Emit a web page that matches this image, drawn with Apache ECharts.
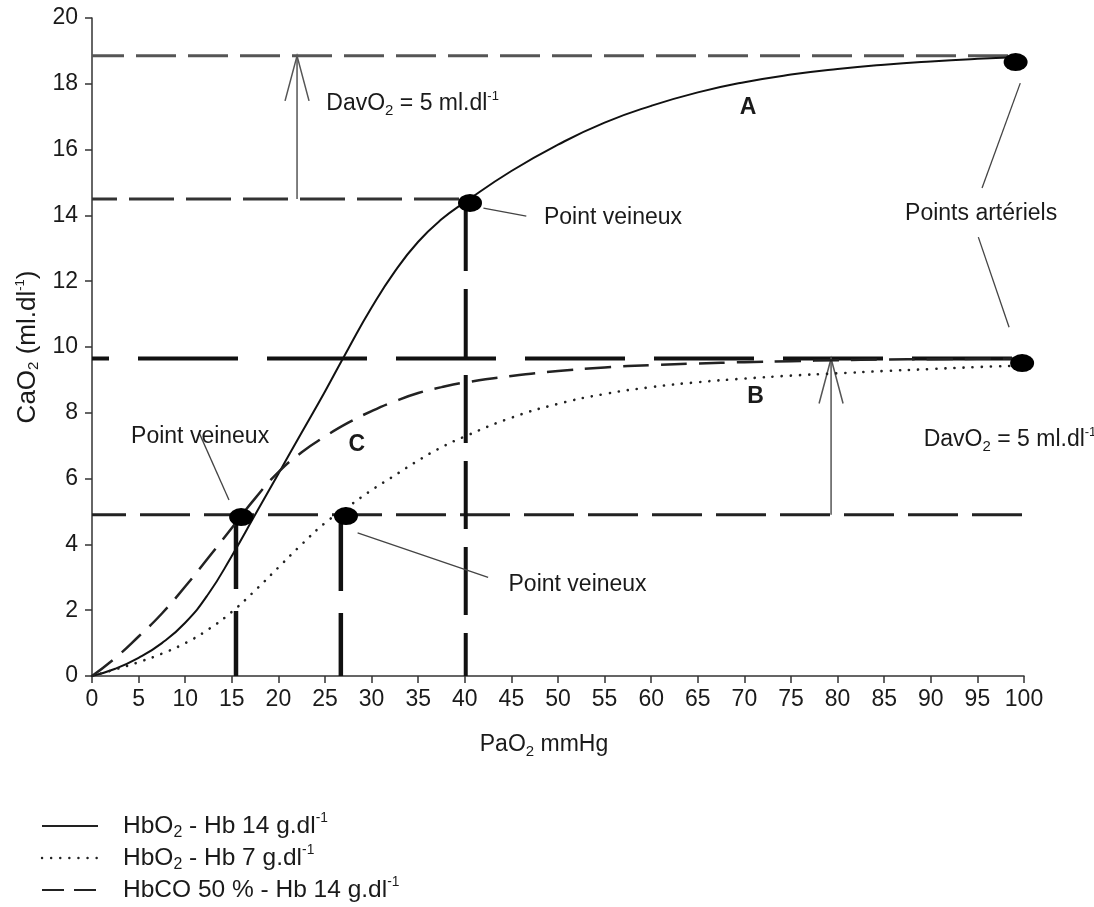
<!DOCTYPE html>
<html>
<head>
<meta charset="utf-8">
<script src="https://cdn.jsdelivr.net/npm/echarts/dist/echarts.min.js"></script>
<style>
html,body{margin:0;padding:0;background:#fff;}
#chart{width:1094px;height:907px;}
</style>
</head>
<body>
<div id="chart"></div>
<script>
// ---- data ----
var pao2 = [0, 2.5, 5, 7.5, 10, 12.5, 15, 17.5, 20, 22.5, 25, 27.5, 30, 32.5, 35, 37.5, 40, 45, 50, 55, 60, 65, 70, 75, 80, 85, 90, 95, 99];
var curveA_Hb14 = [0, 0.22, 0.55, 1.0, 1.62, 2.5, 3.65, 4.9, 6.15, 7.4, 8.65, 9.95, 11.2, 12.3, 13.2, 13.88, 14.4, 15.35, 16.15, 16.82, 17.33, 17.74, 18.05, 18.28, 18.45, 18.58, 18.68, 18.76, 18.81];
var curveB_Hb7 = [0, 0.2, 0.42, 0.68, 1.0, 1.42, 1.95, 2.6, 3.3, 4.0, 4.65, 5.15, 5.65, 6.1, 6.55, 6.95, 7.28, 7.85, 8.27, 8.57, 8.78, 8.93, 9.04, 9.13, 9.2, 9.27, 9.33, 9.39, 9.43];
var curveC_HbCO = [0, 0.55, 1.2, 1.9, 2.72, 3.6, 4.5, 5.4, 6.2, 6.8, 7.28, 7.7, 8.05, 8.35, 8.6, 8.78, 8.92, 9.12, 9.27, 9.38, 9.45, 9.5, 9.54, 9.57, 9.6, 9.62, 9.63, 9.64, 9.65];

var venousPoints = [[40.56, 14.38], [16.0, 4.83], [27.25, 4.86]];
var arterialPoints = [[99.1, 18.66], [99.8, 9.51]];

// horizontal reference levels: [level, xStart, xEnd]
var hLevels = [[18.85, 0, 98.5], [14.5, 0, 40.5], [9.65, 0, 99.8], [4.9, 0, 99.8]];
// vertical drop lines: [x, yTop]
var vDrops = [[40.1, 14.38], [15.45, 4.83], [26.7, 4.86]];
// DavO2 arrows: [x, yFrom, yTo]
var arrows = [[22.0, 14.5, 18.85], [79.3, 4.9, 9.65]];
// leader lines
var leaders = [
  [[42.0, 14.22], [46.6, 13.98]],
  [[99.6, 18.02], [95.5, 14.83]],
  [[95.1, 13.34], [98.4, 10.6]],
  [[11.5, 7.39], [14.7, 5.35]],
  [[28.5, 4.35], [42.5, 3.0]]
];
// text annotations: [text, x, y]
var notes = [
  ['DavO{sub|2} = 5 ml.dl{sup|-1}', 34.4, 17.39],
  ['DavO{sub|2} = 5 ml.dl{sup|-1}', 98.5, 7.17],
  ['{b|A}', 70.4, 17.29],
  ['{b|B}', 71.2, 8.48],
  ['{b|C}', 28.4, 7.02],
  ['Point veineux', 55.9, 13.92],
  ['Points artériels', 95.4, 14.04],
  ['Point veineux', 11.6, 7.26],
  ['Point veineux', 52.1, 2.77]
];
var legendLabels = [
  'HbO{sub|2} - Hb 14 g.dl{sup|-1}',
  'HbO{sub|2} - Hb 7 g.dl{sup|-1}',
  'HbCO 50 % - Hb 14 g.dl{sup|-1}'
];

// ---- styles ----
var FONT = '"Liberation Sans", Arial, Helvetica, sans-serif';
var TXT = '#1a1a1a';
var rich = {
  sub: {fontSize: 15, lineHeight: 15, verticalAlign: 'bottom', fontFamily: FONT, color: TXT},
  sup: {fontSize: 13, lineHeight: 13, verticalAlign: 'top', fontFamily: FONT, color: TXT}
};
function richZr(scale) {
  return {
    sub: {fontSize: 15 * scale, lineHeight: 15 * scale, verticalAlign: 'bottom', fontFamily: FONT, fill: TXT},
    sup: {fontSize: 13 * scale, lineHeight: 13 * scale, verticalAlign: 'top', fontFamily: FONT, fill: TXT},
    b: {fontSize: 23, fontWeight: 'bold', fontFamily: FONT, fill: TXT, lineHeight: 28}
  };
}
var hStyles = [
  {color: '#555', width: 3, type: [40, 12], dashOffset: 8},
  {color: '#333', width: 3, type: [45, 12], dashOffset: 20},
  {color: '#111', width: 4, type: [100, 29], dashOffset: 83},
  {color: '#222', width: 3, type: [50, 14], dashOffset: 16}
];
var vStyles = [
  {color: '#111', width: 4, type: [68, 18]},
  {color: '#111', width: 4.5, type: [72, 22]},
  {color: '#111', width: 4.5, type: [75, 22]}
];
var curveStyles = [
  {color: '#111', width: 2},
  {color: '#222', width: 2.6, type: [0.1, 9], cap: 'round'},
  {color: '#222', width: 2.5, type: [26, 12]}
];
var legendDash = [null, [0.1, 9], [22, 10]];

function pairs(xs, ys) { return xs.map(function (x, i) { return [x, ys[i]]; }); }

var series = [];
hLevels.forEach(function (h, i) {
  series.push({type: 'line', silent: true, symbol: 'none', z: 2,
    data: [[h[1], h[0]], [h[2], h[0]]], lineStyle: hStyles[i]});
});
vDrops.forEach(function (v, i) {
  series.push({type: 'line', silent: true, symbol: 'none', z: 2,
    data: [[v[0], v[1]], [v[0], 0]], lineStyle: vStyles[i]});
});
series.push({type: 'lines', coordinateSystem: 'cartesian2d', silent: true, z: 3,
  data: leaders.map(function (l) { return {coords: l}; }),
  lineStyle: {color: '#444', width: 1.3, opacity: 1}});
series.push({type: 'custom', coordinateSystem: 'cartesian2d', silent: true, z: 4,
  data: arrows, encode: {x: 0, y: [1, 2]},
  renderItem: function (params, api) {
    var x = api.value(0), y0 = api.value(1), y1 = api.value(2);
    var a = api.coord([x, y0]), b = api.coord([x, y1]);
    return {type: 'group', children: [
      {type: 'line', shape: {x1: a[0], y1: a[1], x2: b[0], y2: b[1]}, style: {stroke: '#555', lineWidth: 1.5}},
      {type: 'polyline', shape: {points: [[b[0] - 12, b[1] + 45], [b[0], b[1]], [b[0] + 12, b[1] + 45]]},
        style: {stroke: '#555', lineWidth: 1.5, fill: null}}
    ]};
  }});
[curveA_Hb14, curveB_Hb7, curveC_HbCO].forEach(function (c, i) {
  series.push({type: 'line', symbol: 'none', smooth: 0.5, z: 6, silent: true,
    data: pairs(pao2, c), lineStyle: curveStyles[i]});
});
series.push({type: 'scatter', silent: true, z: 10, clip: false, symbol: 'circle', symbolSize: [24, 18],
  data: venousPoints.concat(arterialPoints), itemStyle: {color: '#000', opacity: 1}});
// text annotations anchored in data space
series.push({type: 'custom', coordinateSystem: 'cartesian2d', silent: true, z: 11, clip: false,
  data: notes.map(function (n) { return [n[1], n[2]]; }),
  renderItem: function (params, api) {
    var p = api.coord([api.value(0), api.value(1)]);
    return {type: 'text', x: p[0], y: p[1],
      style: {text: notes[params.dataIndex][0], fontSize: 23, fontFamily: FONT, fill: TXT,
        lineHeight: 28, align: 'center', verticalAlign: 'middle', rich: richZr(1)}};
  }});

// legend drawn as graphic
var graphic = [];
legendLabels.forEach(function (lab, i) {
  var cy = 826 + 32 * i;
  var ls = {stroke: '#222', lineWidth: 2};
  if (legendDash[i]) { ls.lineDash = legendDash[i]; }
  if (i === 1) { ls.lineCap = 'round'; ls.lineWidth = 2.4; }
  graphic.push({type: 'line', shape: {x1: 42, y1: cy, x2: 98, y2: cy}, style: ls, silent: true});
  graphic.push({type: 'text', x: 123, y: cy, silent: true,
    style: {text: lab, fontSize: 24.5, fontFamily: FONT, fill: TXT, lineHeight: 30,
      verticalAlign: 'middle', align: 'left', rich: richZr(1.06)}});
});

var option = {
  animation: false,
  backgroundColor: '#fff',
  grid: {left: 92, right: 70, top: 18, bottom: 231, containLabel: false},
  xAxis: {
    type: 'value', min: 0, max: 100, interval: 5,
    name: 'PaO{sub|2} mmHg', nameLocation: 'middle', nameGap: 55,
    nameTextStyle: {fontSize: 23, fontFamily: FONT, color: TXT, lineHeight: 28, rich: rich, padding: [0, 28, 0, 0]},
    axisLine: {lineStyle: {color: '#333', width: 1.5}},
    axisTick: {show: true, length: 7, lineStyle: {color: '#333', width: 1.5}},
    axisLabel: {fontSize: 23, fontFamily: FONT, color: TXT, margin: 12},
    splitLine: {show: false}
  },
  yAxis: {
    type: 'value', min: 0, max: 20, interval: 2,
    name: 'CaO{sub|2} (ml.dl{sup|-1})', nameLocation: 'middle', nameGap: 50, nameRotate: 90,
    nameTextStyle: {fontSize: 26, fontFamily: FONT, color: TXT, lineHeight: 28, rich: rich},
    axisLine: {show: true, lineStyle: {color: '#333', width: 1.5}},
    axisTick: {show: true, length: 7, lineStyle: {color: '#333', width: 1.5}},
    axisLabel: {fontSize: 23, fontFamily: FONT, color: TXT, margin: 14},
    splitLine: {show: false}
  },
  graphic: graphic,
  series: series
};
var chart = echarts.init(document.getElementById('chart'), null, {renderer: 'canvas'});
chart.setOption(option);
</script>
</body>
</html>
